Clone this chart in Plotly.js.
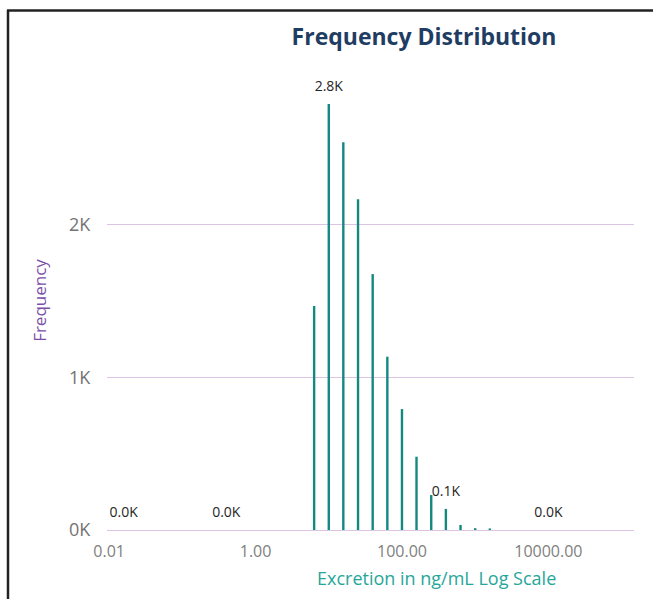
<!DOCTYPE html>
<html>
<head>
<meta charset="utf-8">
<script src="https://cdn.plot.ly/plotly-3.0.1.min.js"></script>
<style>
  html, body { margin: 0; padding: 0; background: #ffffff; }
  #chart { width: 653px; height: 599px; }
</style>
</head>
<body>
<div id="chart"></div>
<script>
// Bin centres (ng/mL), log-spaced bins
const binCenters = [0.0158, 0.0251, 0.0398, 0.0631, 0.1, 0.158, 0.251, 0.398, 0.631, 1,
  1.58, 2.51, 3.98, 6.31, 10, 15.8, 25.1, 39.8, 63.1, 100,
  158, 251, 398, 631, 1000, 1585, 2512, 3981, 6310, 10000];
// Frequency per bin
const frequency = [0, 0, 0, 0, 0, 0, 0, 0, 0, 0,
  0, 0, 0, 1467, 2790, 2539, 2166, 1676, 1135, 792,
  480, 229, 138, 33, 12, 10, 0, 0, 0, 0];
// Data labels shown (others hidden)
const dataLabels = ["0.0K", "", "", "", "", "", "", "0.0K", "", "",
  "", "", "", "", "2.8K", "", "", "", "", "",
  "", "", "0.1K", "", "", "", "", "", "", "0.0K"];

const xTickVals = [0.01, 1, 100, 10000];
const xTickText = ["0.01", "1.00", "100.00", "10000.00"];
const yTickVals = [0, 1000, 2000];
const yTickText = ["0K", "1K", "2K"];

// build vertical sticks from the data
const stickX = [], stickY = [];
binCenters.forEach((x, i) => {
  if (frequency[i] > 0) { stickX.push(x, x, null); stickY.push(0, frequency[i], null); }
});
const lblX = [], lblY = [], lblT = [];
binCenters.forEach((x, i) => {
  if (dataLabels[i]) { lblX.push(x); lblY.push(frequency[i]); lblT.push(dataLabels[i]); }
});

const FONT = "Open Sans, Noto Sans, DejaVu Sans, sans-serif";

const traces = [
  {
    type: "scatter", mode: "lines", x: stickX, y: stickY,
    line: { color: "#13897F", width: 2.4 },
    hoverinfo: "skip", showlegend: false
  },
  {
    type: "scatter", mode: "markers+text", x: lblX, y: lblY, text: lblT,
    textposition: "top center",
    marker: { size: 14, color: "rgba(0,0,0,0)" },
    textfont: { family: FONT, size: 14, color: "#252423" },
    cliponaxis: false, showlegend: false, hoverinfo: "skip"
  }
];

const layout = {
  width: 653, height: 599,
  margin: { l: 107, r: 19, t: 71, b: 69 },
  paper_bgcolor: "#ffffff", plot_bgcolor: "#ffffff",
  font: { family: FONT },
  title: {
    text: "<b>Frequency Distribution</b>",
    font: { family: FONT, size: 23, color: "#1F3D63" },
    x: 424 / 653, xanchor: "center", xref: "container",
    y: 1 - 37 / 599, yanchor: "middle", yref: "container"
  },
  xaxis: {
    type: "log",
    range: [-2.03, 5.17],
    tickvals: xTickVals, ticktext: xTickText,
    tickfont: { family: FONT, size: 16, color: "#808080" },
    ticks: "outside", ticklen: 7, tickcolor: "rgba(0,0,0,0)",
    showgrid: false, zeroline: false, showline: false
  },
  yaxis: {
    range: [0, 3006],
    tickvals: yTickVals, ticktext: yTickText,
    tickfont: { family: FONT, size: 18, color: "#737373" },
    ticks: "outside", ticklen: 12, tickcolor: "rgba(0,0,0,0)",
    showgrid: true, gridcolor: "#DCC4E4", gridwidth: 1,
    zeroline: true, zerolinecolor: "#DCC4E4", zerolinewidth: 1,
    showline: false,
    title: { text: "Frequency", font: { family: FONT, size: 17, color: "#7B4FA8" }, standoff: 18 }
  },
  annotations: [
    {
      text: "Excretion in ng/mL Log Scale",
      xref: "paper", yref: "paper",
      x: (436 - 107) / 527, y: (530 - 578) / 459,
      xanchor: "center", yanchor: "middle", showarrow: false,
      font: { family: FONT, size: 18, color: "#26A69A" }
    }
  ],
  shapes: [
    { type: "line", xref: "paper", yref: "paper",
      x0: (8 - 107) / 527, x1: (8 - 107) / 527, y0: (530 - 10) / 459, y1: (530 - 600) / 459,
      line: { color: "#222222", width: 2.5 } },
    { type: "line", xref: "paper", yref: "paper",
      x0: (7 - 107) / 527, x1: (653 - 107) / 527, y0: (530 - 10.5) / 459, y1: (530 - 10.5) / 459,
      line: { color: "#222222", width: 2.5 } }
  ]
};

Plotly.newPlot("chart", traces, layout, { displayModeBar: false, staticPlot: true });
</script>
</body>
</html>
